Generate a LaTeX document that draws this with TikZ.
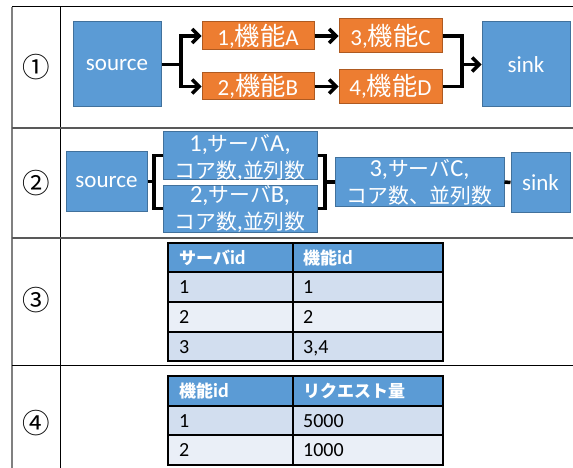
\documentclass[tikz,border=0pt]{standalone}
\usepackage{fontspec}
\setmainfont{Carlito}
\newfontfamily\jp[Scale=1.1]{Noto Sans CJK JP}
\newfontfamily\jps[Scale=0.85]{Noto Sans CJK JP}
\usepackage{tikz}
\usetikzlibrary{arrows.meta}
\definecolor{boxblue}{HTML}{5B9BD5}
\definecolor{boxedge}{HTML}{41719C}
\definecolor{boxorange}{HTML}{ED7D31}
\definecolor{orangeedge}{HTML}{AE5A21}
\definecolor{rowdark}{HTML}{D2DEEF}
\definecolor{rowlight}{HTML}{EAEFF7}
\tikzstyle{bluebox} = [rectangle,draw=boxedge,fill=boxblue,line width=1pt,text=white,inner sep=0pt,font=\fontsize{23}{27}\selectfont]
\tikzstyle{orangebox} = [bluebox,draw=orangeedge,fill=boxorange]
\tikzstyle{srvtext} = [text=white,align=center,inner sep=0pt,font=\fontsize{24.5}{27}\selectfont]
\tikzstyle{link} = [line width=3.5pt]
\tikzstyle{flow} = [link,-{Straight Barb[length=7pt,width=14pt]}]
\tikzstyle{numtext} = [inner sep=0pt,font=\fontsize{25}{25}\selectfont\jp]
\tikzstyle{celltext} = [anchor=base west,inner sep=0pt,font=\fontsize{20}{22}\selectfont]
\tikzstyle{cellline} = [line width=1.2pt]

\begin{document}
\begin{tikzpicture}[x=1pt,y=-1pt]
		\useasboundingbox (0,0) rectangle (573,468);
		% outer table
		\draw[gray,line width=1.5pt] (12,7) -- (12,468);
		\draw[line width=1pt] (60,7) -- (60,468);
		\draw[line width=1pt] (12,7) -- (573,7);
		\draw[gray!70!black,line width=1.5pt] (12,128) -- (573,128);
		\draw[gray!70!black,line width=1.2pt] (12,238) -- (573,238);
		\draw[line width=1pt] (12,365) -- (573,365);
		\foreach \Yc/\Num [count=\i] in {67/①,183/②,300/③,423/④}
		{
			\node[numtext] (num\i) at (36,\Yc) {\Num};
		}
		% row 1
		\node[bluebox,minimum width=88pt,minimum height=85pt] (src1) at (117,64.5) {source};
		\node[orangebox,minimum width=112pt,minimum height=28pt] (fa) at (258,36) {1,{\jp 機能}A};
		\node[orangebox,minimum width=112pt,minimum height=27pt] (fb) at (258,86.5) {2,{\jp 機能}B};
		\node[orangebox,minimum width=103pt,minimum height=34pt] (fc) at (390.5,36) {3,{\jp 機能}C};
		\node[orangebox,minimum width=103pt,minimum height=34pt] (fd) at (390.5,86.5) {4,{\jp 機能}D};
		\node[bluebox,minimum width=88pt,minimum height=85pt] (sink1) at (526,64.5) {sink};
		\coordinate (split1) at (181,64.5);
		\coordinate (merge1) at (462,64.5);
		\draw[link] (src1.east) -- (split1);
		\draw[flow] (split1) |- (fa.west);
		\draw[flow] (split1) |- (fb.west);
		\draw[flow] (fa) -- (fc);
		\draw[flow] (fb) -- (fd);
		\draw[link] (fc.east) -| (merge1);
		\draw[link] (fd.east) -| (merge1);
		\draw[flow] (merge1) -- (sink1.west);
		% row 2
		\node[bluebox,minimum width=81pt,minimum height=59pt] (src2) at (106.5,181.5) {source};
		\node[bluebox,minimum width=154pt,minimum height=47pt,
			label={[srvtext,yshift=-3pt]center:{1,{\jps サーバ}A,\\{\jps コア数},{\jps 並列数}}}] (sa) at (240,155.5) {};
		\node[bluebox,minimum width=154pt,minimum height=47pt,
			label={[srvtext,yshift=-1pt]center:{2,{\jps サーバ}B,\\{\jps コア数},{\jps 並列数}}}] (sb) at (240,208.5) {};
		\node[bluebox,minimum width=169pt,minimum height=48pt,
			label={[srvtext]center:{3,{\jps サーバ}C,\\{\jps コア数、並列数}}}] (sc) at (419.5,182) {};
		\node[bluebox,minimum width=59pt,minimum height=59pt] (sink2) at (540.5,182.5) {sink};
		\coordinate (split2) at (154,181.5);
		\coordinate (merge2) at (325,182);
		\draw[link] (src2.east) -- (split2);
		\draw[link] (split2) |- (sa.west);
		\draw[link] (split2) |- (sb.west);
		\draw[link] (sa.east) -| (merge2);
		\draw[link] (sb.east) -| (merge2);
		\draw[link] (merge2) -- (sc.west);
		\draw[link] (sc.east) -- (sink2.west);
		% row 3: server table
		\foreach \Yt/\Yb/\Fill/\Txt/\Ta/\Tb [count=\i] in
		{243/272/boxblue/white/{\bfseries{\jps サーバ}id}/{\bfseries{\jps 機能}id},
		 272/302/rowdark/black/1/1,
		 302/332/rowlight/black/2/2,
		 332/361/rowdark/black/3/{3,4}}
		{
			\fill[\Fill] (168,\Yt) rectangle (443,\Yb);
			\draw[cellline] (168,\Yt) rectangle (293,\Yb);
			\draw[cellline] (293,\Yt) rectangle (443,\Yb);
			\node[celltext,text=\Txt] (srv\i) at (179,{(\Yt+\Yb)/2+6.5}) {\Ta};
			\node[celltext,text=\Txt] (fun\i) at (303,{(\Yt+\Yb)/2+6.5}) {\Tb};
		}
		% row 4: request table
		\foreach \Yt/\Yb/\Fill/\Txt/\Ta/\Tb [count=\i] in
		{376/406/boxblue/white/{\bfseries{\jps 機能}id}/{\bfseries{\jps リクエスト量}},
		 406/435/rowdark/black/1/5000,
		 435/465/rowlight/black/2/1000}
		{
			\fill[\Fill] (168,\Yt) rectangle (443,\Yb);
			\draw[cellline] (168,\Yt) rectangle (293,\Yb);
			\draw[cellline] (293,\Yt) rectangle (443,\Yb);
			\node[celltext,text=\Txt] (fid\i) at (179,{(\Yt+\Yb)/2+6.5}) {\Ta};
			\node[celltext,text=\Txt] (req\i) at (303,{(\Yt+\Yb)/2+6.5}) {\Tb};
		}
\end{tikzpicture}
\end{document}
